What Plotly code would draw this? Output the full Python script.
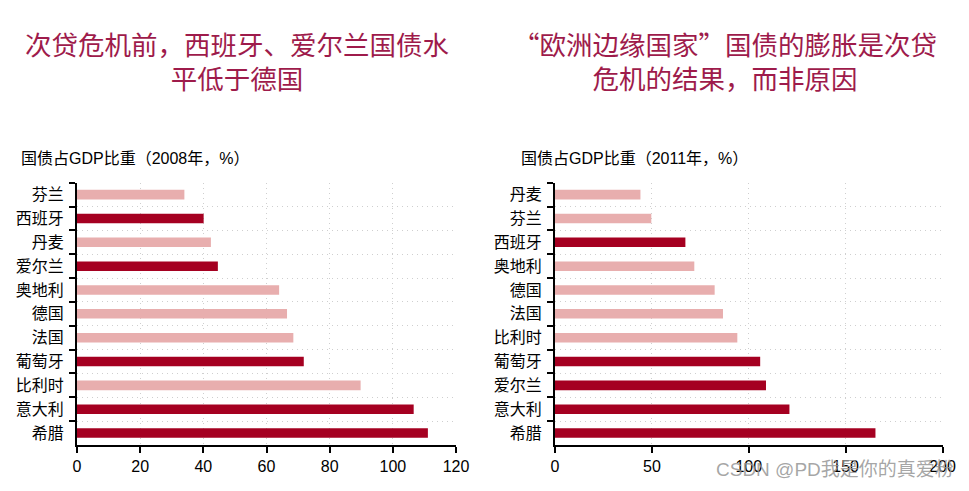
import plotly.graph_objects as go

# ---- data (top-to-bottom order as shown) ----
cats_2008 = ["芬兰", "西班牙", "丹麦", "爱尔兰", "奥地利", "德国", "法国", "葡萄牙", "比利时", "意大利", "希腊"]
vals_2008 = [34.0, 40.1, 42.4, 44.6, 64.0, 66.5, 68.5, 71.8, 89.8, 106.6, 111.1]
hl_2008 = [False, True, False, True, False, False, False, True, False, True, True]

cats_2011 = ["丹麦", "芬兰", "西班牙", "奥地利", "德国", "法国", "比利时", "葡萄牙", "爱尔兰", "意大利", "希腊"]
vals_2011 = [44.1, 49.7, 67.3, 71.9, 82.4, 86.7, 94.1, 105.9, 108.9, 121.0, 165.4]
hl_2011 = [False, False, True, False, False, False, False, True, True, True, True]

title_left = "次贷危机前，西班牙、爱尔兰国债水<br>平低于德国"
title_right = "“欧洲边缘国家”国债的膨胀是次贷<br>危机的结果，而非原因"
sub_left = "国债占GDP比重（2008年，%）"
sub_right = "国债占GDP比重（2011年，%）"
watermark = "CSDN @PD我是你的真爱粉"

DARK = "#A50021"
LIGHT = "#E8AEAE"
TITLE_C = "#9E1B4B"
FONT = "Liberation Sans, Noto Sans CJK SC, sans-serif"
CJK = "Noto Sans CJK SC, sans-serif"

W, H = 969, 491

fig = go.Figure()
fig.add_trace(go.Bar(
    y=cats_2008, x=vals_2008, orientation="h",
    marker=dict(color=[DARK if h else LIGHT for h in hl_2008], line=dict(width=0)),
    xaxis="x", yaxis="y", showlegend=False,
))
fig.add_trace(go.Bar(
    y=cats_2011, x=vals_2011, orientation="h",
    marker=dict(color=[DARK if h else LIGHT for h in hl_2011], line=dict(width=0)),
    xaxis="x2", yaxis="y2", showlegend=False,
))

ydom = [1 - 445 / H, 1 - 182.7 / H]

GRIDC = "#CFCFCF"
xcommon = dict(
    showline=True, linecolor="black", linewidth=2,
    ticks="outside", ticklen=6, tickwidth=2, tickcolor="black",
    showgrid=True, gridcolor=GRIDC, griddash="1px,4px", gridwidth=1,
    zeroline=False, automargin=False,
    tickfont=dict(family=FONT, size=16, color="black"),
)
ycommon = dict(
    showline=True, linecolor="black", linewidth=2,
    ticks="outside", ticklen=6, tickwidth=2, tickcolor="black",
    tickson="boundaries", ticklabelstandoff=8,
    showgrid=True, gridcolor=GRIDC, griddash="1px,4px", gridwidth=1,
    zeroline=False, automargin=False,
    tickfont=dict(family=FONT, size=16, color="black"),
    range=[10.5, -0.5], type="category",
)

fig.update_layout(
    template="none",
    width=W, height=H,
    margin=dict(l=0, r=0, t=0, b=0, autoexpand=False),
    paper_bgcolor="white", plot_bgcolor="white",
    bargap=0.6,
    xaxis=dict(domain=[77 / W, 456 / W], range=[0, 120], dtick=20, anchor="y", **xcommon),
    yaxis=dict(domain=ydom, anchor="x", **ycommon),
    xaxis2=dict(domain=[555 / W, 942.5 / W], range=[0, 200], dtick=50, anchor="y2", **xcommon),
    yaxis2=dict(domain=ydom, anchor="x2", **ycommon),
)

annos = [
    dict(text=title_left, x=237 / W, y=1 - 61 / H, font=dict(family=CJK, size=26.5, color=TITLE_C)),
    dict(text=title_right, x=725 / W, y=1 - 61 / H, font=dict(family=CJK, size=26.5, color=TITLE_C)),
]
for a in annos:
    a.update(xref="paper", yref="paper", xanchor="center", yanchor="middle", showarrow=False, align="center")
    fig.add_annotation(**a)

fig.add_annotation(text=sub_left, x=19 / W, y=1 - 158 / H, xref="paper", yref="paper",
                   xanchor="left", yanchor="middle", showarrow=False,
                   font=dict(family=FONT, size=16, color="black"))
fig.add_annotation(text=sub_right, x=519 / W, y=1 - 158 / H, xref="paper", yref="paper",
                   xanchor="left", yanchor="middle", showarrow=False,
                   font=dict(family=FONT, size=16, color="black"))
fig.add_annotation(text=watermark, x=956 / W, y=1 - 469 / H, xref="paper", yref="paper",
                   xanchor="right", yanchor="middle", showarrow=False,
                   font=dict(family=FONT, size=19, color="rgba(150,150,150,0.85)"))

fig.write_html("out.html", config={"displayModeBar": False},
               post_script="document.body.style.margin='0';document.body.style.overflow='hidden';")
